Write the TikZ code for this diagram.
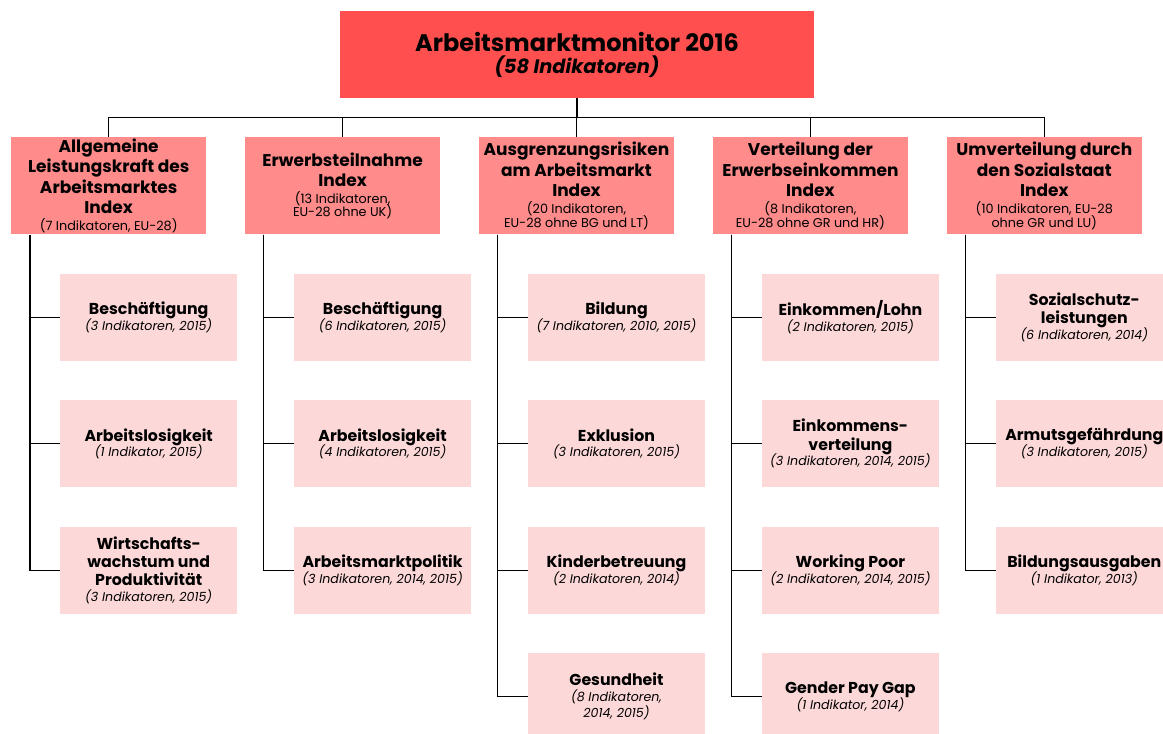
\documentclass[tikz,border=0pt]{standalone}
\usepackage{fontspec}
\setmainfont{Poppins}
\usepackage{xcolor}
\usetikzlibrary{positioning}

\definecolor{topred}{HTML}{FF4F4F}
\definecolor{idxred}{HTML}{FF8B8B}
\definecolor{itempink}{HTML}{FDD8D8}
\newcommand{\idxnote}{\fontsize{12.8}{13}\selectfont\mdseries}
\newcommand{\itemnote}{\fontsize{12.6}{13}\selectfont\mdseries\itshape}

\begin{document}
\begin{tikzpicture}[
  x=1pt, y=1pt,
  main/.style={fill=topred, inner sep=0pt, align=center, minimum width=474pt, minimum height=87pt, font=\fontsize{24}{26}\selectfont\bfseries},
  index/.style={fill=idxred, inner sep=0pt, align=center, minimum width=195pt, minimum height=97pt, font=\fontsize{17}{20.5}\selectfont\bfseries},
  item/.style={fill=itempink, inner sep=0pt, align=center, minimum width=177pt, minimum height=87pt, font=\fontsize{15.8}{18.3}\selectfont\bfseries},
  link/.style={draw=black, line width=1.1pt}
]
  \useasboundingbox (0,0) rectangle (1163,-734);

  \node[main] (monitor) at (577,-54.5) {Arbeitsmarktmonitor 2016\\[-4pt]{\fontsize{19.4}{20}\selectfont\itshape (58 Indikatoren)}};

  \node[index, below=39pt of monitor, xshift=-0.5pt] (ausgr) {Ausgrenzungsrisiken\\am Arbeitsmarkt\\Index\\[-3.5pt]{\idxnote(20 Indikatoren,}\\[-7.3pt]{\idxnote EU-28 ohne BG und LT)}};
  \node[index, left=38.5pt of ausgr] (erwerb) {Erwerbsteilnahme\\Index\\[-3.5pt]{\idxnote(13 Indikatoren,}\\[-7.3pt]{\idxnote EU-28 ohne UK)}};
  \node[index, left=38.5pt of erwerb] (leist) {Allgemeine\\Leistungskraft des\\Arbeitsmarktes\\Index\\[-3.5pt]{\idxnote(7 Indikatoren, EU-28)}};
  \node[index, right=38.5pt of ausgr] (vert) {Verteilung der\\Erwerbseinkommen\\Index\\[-3.5pt]{\idxnote(8 Indikatoren,}\\[-7.3pt]{\idxnote EU-28 ohne GR und HR)}};
  \node[index, right=38.5pt of vert] (umv) {Umverteilung durch\\den Sozialstaat\\Index\\[-3.5pt]{\idxnote(10 Indikatoren, EU-28}\\[-7.3pt]{\idxnote ohne GR und LU)}};

  \node[item, below=39pt of leist.south west, anchor=north west, xshift=49pt] (leist1) {Beschäftigung\\[-2.6pt]{\itemnote(3 Indikatoren, 2015)}};
  \node[item, below=39pt of leist1] (leist2) {Arbeitslosigkeit\\[-2.6pt]{\itemnote(1 Indikator, 2015)}};
  \node[item, below=39pt of leist2] (leist3) {Wirtschafts-\\wachstum und\\Produktivität\\[-2.6pt]{\itemnote(3 Indikatoren, 2015)}};

  \node[item, below=39pt of erwerb.south west, anchor=north west, xshift=49pt] (erwerb1) {Beschäftigung\\[-2.6pt]{\itemnote(6 Indikatoren, 2015)}};
  \node[item, below=39pt of erwerb1] (erwerb2) {Arbeitslosigkeit\\[-2.6pt]{\itemnote(4 Indikatoren, 2015)}};
  \node[item, below=39pt of erwerb2] (erwerb3) {Arbeitsmarktpolitik\\[-2.6pt]{\itemnote(3 Indikatoren, 2014, 2015)}};

  \node[item, below=39pt of ausgr.south west, anchor=north west, xshift=49pt] (ausgr1) {Bildung\\[-2.6pt]{\itemnote(7 Indikatoren, 2010, 2015)}};
  \node[item, below=39pt of ausgr1] (ausgr2) {Exklusion\\[-2.6pt]{\itemnote(3 Indikatoren, 2015)}};
  \node[item, below=39pt of ausgr2] (ausgr3) {Kinderbetreuung\\[-2.6pt]{\itemnote(2 Indikatoren, 2014)}};
  \node[item, below=39pt of ausgr3] (ausgr4) {Gesundheit\\[-2.6pt]{\itemnote(8 Indikatoren,}\\[-2.6pt]{\itemnote 2014, 2015)}};

  \node[item, below=39pt of vert.south west, anchor=north west, xshift=49pt] (vert1) {Einkommen/Lohn\\[-2.6pt]{\itemnote(2 Indikatoren, 2015)}};
  \node[item, below=39pt of vert1] (vert2) {Einkommens-\\verteilung\\[-2.6pt]{\itemnote(3 Indikatoren, 2014, 2015)}};
  \node[item, below=39pt of vert2] (vert3) {Working Poor\\[-2.6pt]{\itemnote(2 Indikatoren, 2014, 2015)}};
  \node[item, below=39pt of vert3] (vert4) {Gender Pay Gap\\[-2.6pt]{\itemnote(1 Indikator, 2014)}};

  \node[item, below=39pt of umv.south west, anchor=north west, xshift=49pt] (umv1) {Sozialschutz-\\leistungen\\[-2.6pt]{\itemnote(6 Indikatoren, 2014)}};
  \node[item, below=39pt of umv1] (umv2) {Armutsgefährdung\\[-2.6pt]{\itemnote(3 Indikatoren, 2015)}};
  \node[item, below=39pt of umv2] (umv3) {Bildungsausgaben\\[-2.6pt]{\itemnote(1 Indikator, 2013)}};

  \foreach \n in {leist,erwerb,ausgr,vert,umv}
    \draw[link] (monitor.south) -- ++(0,-19.5) -| (\n.north);
  \foreach \n/\k in {leist/3,erwerb/3,ausgr/4,vert/4,umv/3}
    \foreach \r in {1,...,\k}
      \draw[link] ([xshift=19pt]\n.south west) |- (\n\r.west);
\end{tikzpicture}
\end{document}
